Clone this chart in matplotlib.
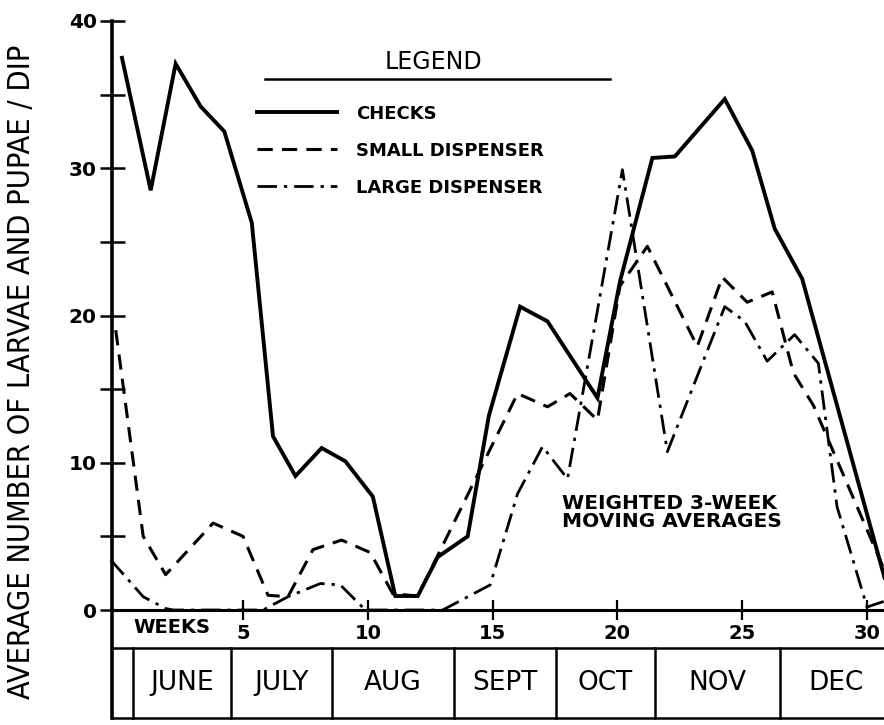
import matplotlib.pyplot as plt
import numpy as np

# weekly vertices (weeks, larvae+pupae per dip)
checks_weeks = [0.15, 1.3, 2.3, 3.3, 4.25, 5.35, 6.2, 7.1, 8.15, 9.1, 10.2, 11.1, 12.0, 12.8,
                14.0, 14.85, 16.1, 17.2, 19.2, 20.1, 21.4, 22.3, 24.3, 25.4, 26.3, 27.4, 30.7]
checks = [37.5, 28.5, 37.1, 34.2, 32.5, 26.3, 11.8, 9.1, 11.0, 10.1, 7.7, 0.95, 0.95, 3.6,
          5.0, 13.2, 20.6, 19.6, 14.4, 22.3, 30.7, 30.8, 34.7, 31.2, 25.9, 22.5, 2.2]

small_weeks = [-0.1, 1.0, 1.9, 3.8, 5.0, 6.0, 6.8, 7.8, 8.95, 10.1, 11.0, 12.0, 16.0, 17.2,
               18.1, 19.2, 20.1, 21.2, 23.2, 24.2, 25.2, 26.2, 27.05, 27.85, 30.7]
small = [19.0, 5.0, 2.4, 5.9, 5.0, 1.0, 0.9, 4.1, 4.75, 3.9, 1.1, 0.95, 14.7, 13.8,
         14.7, 12.9, 22.0, 24.7, 17.9, 22.6, 20.9, 21.6, 16.1, 13.9, 2.7]

large_weeks = [-0.3, 1.0, 1.9, 2.2, 5.8, 6.8, 8.1, 8.9, 9.9, 13.0, 14.9, 16.0, 17.0, 18.0,
               20.2, 22.0, 24.3, 25.1, 26.0, 27.1, 28.05, 28.8, 30.0, 30.7]
large = [3.4, 0.9, 0.1, 0.0, 0.0, 0.9, 1.8, 1.7, 0.0, 0.0, 1.7, 7.9, 11.1, 8.9,
         29.9, 10.75, 20.6, 19.6, 16.9, 18.7, 16.75, 7.0, 0.2, 0.6]

week_ticks = [5, 10, 15, 20, 25, 30]
months = ['JUNE', 'JULY', 'AUG', 'SEPT', 'OCT', 'NOV', 'DEC']
month_edges = [0.6, 4.5, 8.55, 13.45, 17.55, 21.5, 26.5, 31.0]

fig = plt.figure(figsize=(8.84, 7.25), dpi=100)
ax = fig.add_axes([112 / 884, 115 / 725, 772 / 884, 589 / 725])
ax.set_xlim(-0.25, 30.68)
ax.set_ylim(0, 40)

l1, = ax.plot(checks_weeks, checks, color='black', lw=2.8, clip_on=False,
              solid_joinstyle='miter')
l2, = ax.plot(small_weeks, small, color='black', lw=2.2, clip_on=False,
              dashes=[5, 3])
l3, = ax.plot(large_weeks, large, color='black', lw=2.0, clip_on=False,
              dashes=[7, 2.5, 1.2, 2.5])

for side in ['top', 'right']:
    ax.spines[side].set_visible(False)
ax.spines['left'].set_linewidth(2.6)
ax.spines['bottom'].set_linewidth(2.2)

ax.set_yticks([0, 10, 20, 30, 40])
ax.set_yticks([5, 15, 25, 35], minor=True)
ax.tick_params(axis='y', which='both', direction='inout', length=18, width=1.8,
               labelsize=14.5, pad=2)
for t in ax.get_yticklabels():
    t.set_fontweight('bold')
ax.set_xticks(week_ticks)
ax.tick_params(axis='x', direction='inout', length=14, width=1.6, labelsize=14, pad=3)
for t in ax.get_xticklabels():
    t.set_fontweight('bold')

# week / month table under the axis
tr = ax.get_xaxis_transform()
row1 = -0.0645
row2 = -0.1834
for y in [row1, row2]:
    ax.plot([-0.25, 31.5], [y, y], color='black', lw=1.8, transform=tr, clip_on=False)
ax.plot([-0.25, -0.25], [0, row2], color='black', lw=2.6, transform=tr, clip_on=False)
for e in month_edges:
    ax.plot([e, e], [row1, row2], color='black', lw=1.8, transform=tr, clip_on=False)
for i, m in enumerate(months):
    c = (month_edges[i] + month_edges[i + 1]) / 2
    ax.text(c, -0.124, m, transform=tr, ha='center', va='center', fontsize=19)
ax.text(2.15, -0.029, 'WEEKS', transform=tr, ha='center', va='center',
        fontsize=14, fontweight='bold')

fig.text(22 / 884, 1 - 372 / 725, 'AVERAGE NUMBER OF LARVAE AND PUPAE / DIP',
         rotation=90, ha='center', va='center', fontsize=22, fontstretch='condensed')

# legend
ax.text(0.417, 0.930, 'LEGEND', transform=ax.transAxes, ha='center', va='center',
        fontsize=17)
ax.plot([0.198, 0.645], [0.9015, 0.9015], color='black', lw=1.8, transform=ax.transAxes)
ax.legend([l1, l2, l3], ['CHECKS', 'SMALL DISPENSER', 'LARGE DISPENSER'],
          loc='upper left', bbox_to_anchor=(0.188, 0.858), frameon=False,
          borderpad=0, borderaxespad=0, handlelength=4.4, handletextpad=1.1,
          labelspacing=1.05, prop={'size': 13, 'weight': 'bold'})

ax.text(0.583, 0.165, 'WEIGHTED 3-WEEK\nMOVING AVERAGES', transform=ax.transAxes,
        ha='left', va='center', fontsize=14.5, fontweight='bold', linespacing=0.95)

fig.savefig('out.png', dpi=100, facecolor='white')
